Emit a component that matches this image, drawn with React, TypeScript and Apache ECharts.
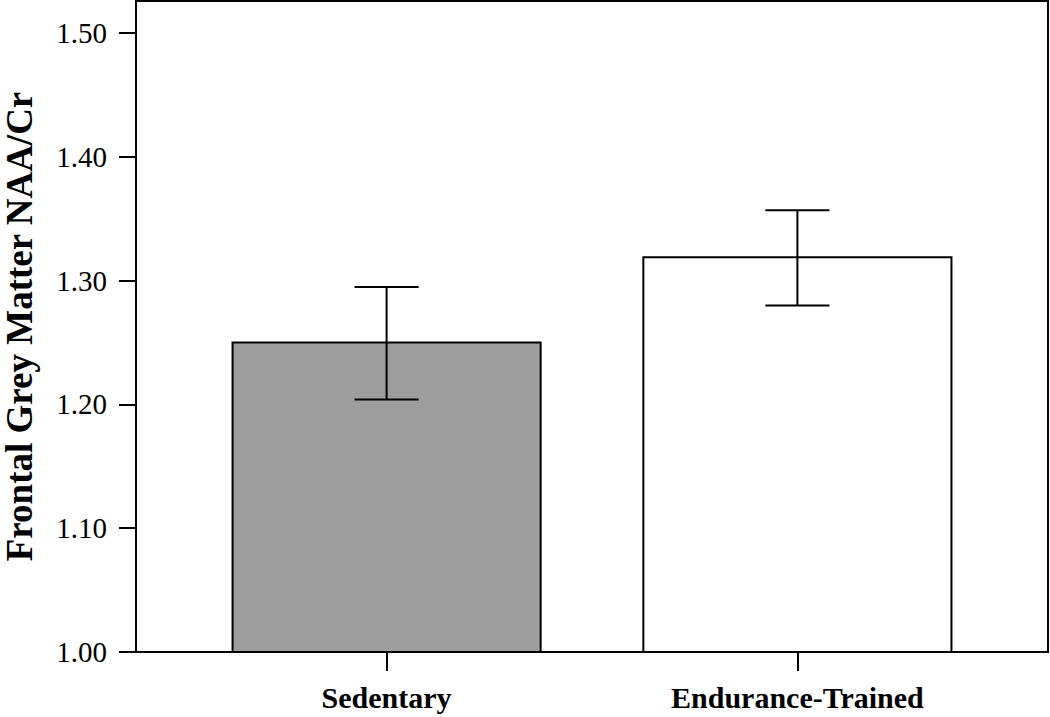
import React, { useEffect, useRef } from "react";
import * as echarts from "echarts";

const categories = ["Sedentary", "Endurance-Trained"];
const categoryPositions = [1, 2];
const meanValues = [1.25, 1.319];
const errorLow = [1.204, 1.28];
const errorHigh = [1.295, 1.357];
const barColors = ["#9e9e9e", "#ffffff"];
const yTickValues = [1.0, 1.1, 1.2, 1.3, 1.4, 1.5];

export default function App() {
  const ref = useRef<HTMLDivElement>(null);

  useEffect(() => {
    if (!ref.current) return;
    const chart = echarts.init(ref.current, null, { renderer: "svg" });
    const serif = "'Liberation Serif', 'DejaVu Serif', serif";

    const barData = categoryPositions.map((x, i) => [x, meanValues[i]]);
    const errData = categoryPositions.map((x, i) => [x, errorLow[i], errorHigh[i]]);

    chart.setOption({
      animation: false,
      backgroundColor: "#ffffff",
      grid: {
        left: 136,
        right: 2,
        top: 1,
        bottom: 65,
        containLabel: false,
        outerBoundsMode: "none",
        show: true,
        borderColor: "#000",
        borderWidth: 2,
        backgroundColor: "transparent",
      },
      xAxis: {
        type: "value",
        min: 0.39,
        max: 2.61,
        splitLine: { show: false },
        axisLine: { show: true, lineStyle: { color: "#000", width: 2 } },
        axisTick: {
          show: true,
          customValues: categoryPositions,
          length: 19,
          lineStyle: { color: "#000", width: 2 },
        },
        axisLabel: {
          customValues: categoryPositions,
          formatter: (v: number) => {
            const idx = categoryPositions.indexOf(Math.round(v));
            return idx >= 0 ? categories[idx] : "";
          },
          margin: 30,
          color: "#000",
          fontFamily: serif,
          fontWeight: "bold",
          fontSize: 30,
        },
      },
      yAxis: {
        type: "value",
        min: 1.0,
        max: 1.526,
        name: "Frontal Grey Matter NAA/Cr",
        nameLocation: "middle",
        nameGap: 101,
        nameTextStyle: {
          color: "#000",
          fontFamily: serif,
          fontWeight: "bold",
          fontSize: 37,
          lineHeight: 32,
        },
        splitLine: { show: false },
        axisLine: { show: true, lineStyle: { color: "#000", width: 2 } },
        axisTick: {
          show: true,
          customValues: yTickValues,
          length: 17,
          lineStyle: { color: "#000", width: 2 },
        },
        axisLabel: {
          customValues: yTickValues,
          formatter: (v: number) => v.toFixed(2),
          margin: 29,
          color: "#000",
          fontFamily: serif,
          fontSize: 29,
        },
      },
      series: [
        {
          type: "custom",
          data: barData,
          renderItem: (params: any, api: any) => {
            const x = api.value(0);
            const y = api.value(1);
            const base = api.coord([x, 1.0]);
            const top = api.coord([x, y]);
            const w = api.size([0.75, 0])[0];
            return {
              type: "rect",
              shape: { x: base[0] - w / 2, y: top[1], width: w, height: base[1] - top[1] },
              style: { fill: barColors[params.dataIndex], stroke: "#000", lineWidth: 2 },
            };
          },
          z: 2,
        },
        {
          type: "custom",
          data: errData,
          renderItem: (params: any, api: any) => {
            const x = api.value(0);
            const lo = api.coord([x, api.value(1)]);
            const hi = api.coord([x, api.value(2)]);
            const half = api.size([0.078, 0])[0];
            const style = { stroke: "#000", lineWidth: 2 };
            return {
              type: "group",
              children: [
                { type: "line", shape: { x1: lo[0], y1: lo[1], x2: hi[0], y2: hi[1] }, style },
                { type: "line", shape: { x1: lo[0] - half, y1: lo[1], x2: lo[0] + half, y2: lo[1] }, style },
                { type: "line", shape: { x1: hi[0] - half, y1: hi[1], x2: hi[0] + half, y2: hi[1] }, style },
              ],
            };
          },
          z: 3,
        },
      ],
    });

    return () => chart.dispose();
  }, []);

  return (
    <div
      ref={ref}
      style={{ position: "fixed", left: 0, top: 0, width: 1050, height: 717, background: "#fff" }}
    />
  );
}
